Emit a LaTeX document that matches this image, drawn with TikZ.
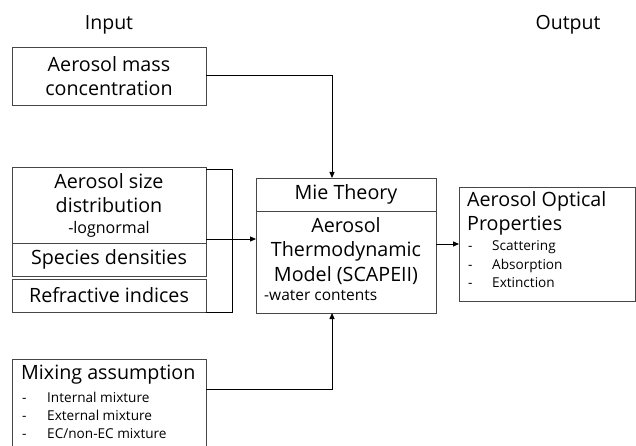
\documentclass[tikz,border=0pt]{standalone}
\usepackage{fontspec}
\setmainfont{Open Sans}
\usetikzlibrary{arrows.meta}
\newcommand{\bigtxt}{\fontsize{19.7}{24.5}\selectfont}
\newcommand{\subtxt}{\fontsize{16}{19}\selectfont}
\newcommand{\notetxt}{\fontsize{15.5}{19}\selectfont}
\newcommand{\itemtxt}{\fontsize{13.6}{18}\selectfont}
\begin{document}
\begin{tikzpicture}[x=1pt,y=-1pt,
  box/.style={draw=black!72, line width=0.9pt, inner sep=0pt, outer sep=0pt, align=center, font=\bigtxt},
  txtline/.style={anchor=west, inner sep=0pt, text height=0.72em, text depth=0.22em},
  bigline/.style={txtline, font=\bigtxt},
  itemdash/.style={txtline, font=\itemtxt},
  itemline/.style={txtline, font=\itemtxt},
  link/.style={line width=1pt, black},
  arr/.style={link, -{Triangle[length=6pt,width=5pt]}},
  head/.style={font=\fontsize{19.5}{22}\selectfont}]
\useasboundingbox (0,0) rectangle (636,446);
\clip (0,0) rectangle (636,446);

% column headings
\node[head] (hin) at (109,25) {Input};
\node[head] (hout) at (568,25) {Output};

% input boxes
\node[box, minimum width=194pt, minimum height=58pt] (mass) at (109,76)
  {Aerosol mass\\concentration};
\node[box, minimum width=194pt, minimum height=76pt] (size) at (109,205)
  {Aerosol size\\distribution\\[-4pt]{\subtxt -lognormal}};
\node[box, minimum width=194pt, minimum height=33pt] (spec) at (109,259.5)
  {Species densities};
\node[box, minimum width=194pt, minimum height=33pt] (refr) at (109,295.5)
  {Refractive indices};
\node[box, minimum width=194pt, minimum height=92pt] (mix) at (109,405) {};
\node[bigline] (mixhead) at (21,377) {Mixing assumption};
\node[itemdash] (mixd1) at (22,400) {-};
\node[itemline] (mix1) at (47,400) {Internal mixture};
\node[itemdash] (mixd2) at (22,418) {-};
\node[itemline] (mix2) at (47,418) {External mixture};
\node[itemdash] (mixd3) at (22,436) {-};
\node[itemline] (mix3) at (47,436) {EC/non-EC mixture};

% model boxes
\node[box, minimum width=180pt, minimum height=33pt] (mie) at (346,194.5)
  {Mie Theory};
\node[box, minimum width=180pt, minimum height=102pt] (thermo) at (346,262) {};
\node[align=center, inner sep=0pt, font=\bigtxt, anchor=north] (thermotxt) at (346,217)
  {Aerosol\\Thermodynamic\\Model (SCAPEII)};
\node[txtline, font=\notetxt] (water) at (264,298) {-water contents};

% output box
\node[box, minimum width=176pt, minimum height=114pt] (out) at (547,244) {};
\node[bigline] (outh1) at (467,204) {Aerosol Optical};
\node[bigline] (outh2) at (467,228) {Properties};
\node[itemdash] (outd1) at (468,248) {-};
\node[itemline] (out1) at (492,248) {Scattering};
\node[itemdash] (outd2) at (468,267) {-};
\node[itemline] (out2) at (492,267) {Absorption};
\node[itemdash] (outd3) at (468,285) {-};
\node[itemline] (out3) at (492,285) {Extinction};

% bracket grouping the particle property boxes
\draw[link] ([yshift=-3pt]size.north east) -- ++(26,0) |- (refr.south east);

% connectors
\draw[arr] (mass.east) -| ([xshift=-14pt]mie.north);
\draw[arr] ([yshift=-34pt]size.east) -- ([yshift=-34pt]size.east -| thermo.west);
\draw[arr] (out.west -| thermo.east) -- (out.west);
\draw[arr] ([yshift=-30pt]mix.north east) -| ([xshift=-14pt]thermo.south);
\end{tikzpicture}
\end{document}
